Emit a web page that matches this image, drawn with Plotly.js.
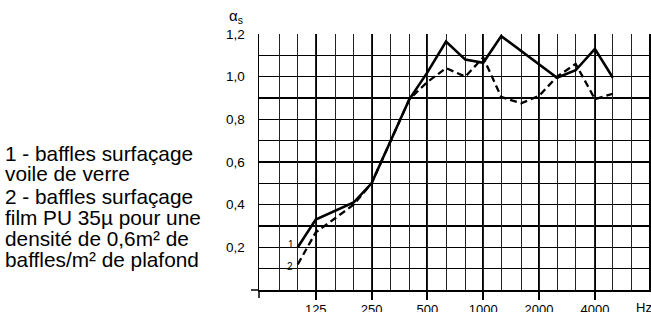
<!DOCTYPE html>
<html>
<head>
<meta charset="utf-8">
<script src="https://cdn.plot.ly/plotly-3.0.1.min.js"></script>
<style>html,body{margin:0;padding:0;background:#fff;}#chart{width:651px;height:312px;}</style>
</head>
<body>
<div id="chart"></div>
<script>
// Data
const freq1 = [100, 125, 200, 250, 400, 500, 630, 800, 1000, 1250, 2500, 3150, 4000, 5000];
const alpha1 = [0.20, 0.33, 0.41, 0.50, 0.895, 1.02, 1.165, 1.08, 1.065, 1.19, 0.995, 1.03, 1.13, 0.995];
const freq2 = [100, 125, 200, 250, 400, 500, 630, 800, 1000, 1250, 1600, 2000, 2500, 3150, 4000, 5000];
const alpha2 = [0.12, 0.27, 0.40, 0.50, 0.895, 0.975, 1.04, 1.00, 1.09, 0.905, 0.875, 0.91, 1.00, 1.06, 0.895, 0.92];
const octaveTicks = [125, 250, 500, 1000, 2000, 4000];
const octaveLabels = ['125', '250', '500', '1000', '2000', '4000'];
const thirdOctaves = [80, 100, 125, 160, 200, 250, 315, 400, 500, 630, 800, 1000, 1250, 1600, 2000, 2500, 3150, 4000, 5000, 6300];
const yTicks = [0, 0.1, 0.2, 0.3, 0.4, 0.5, 0.6, 0.7, 0.8, 0.9, 1.0, 1.1, 1.2];
const yLabels = ['', '', '0,2', '', '0,4', '', '0,6', '', '0,8', '', '1,0', '', '1,2'];
const legendLines = ['1 - baffles surfaçage', 'voile de verre', '2 - baffles surfaçage', 'film PU 35µ pour une', 'densité de 0,6m² de', 'baffles/m² de plafond'];

const W = 651, H = 312;
const L = 259, R = 2, T = 34, B = 22;
const pw = W - L - R, ph = H - T - B;
const px2paper = x => (x - L) / pw;
const py2paper = y => (H - B - y) / ph;

const xRange = [Math.log10(61.8), Math.log10(7830)];
const FONT = 'Liberation Sans, Arial, Helvetica, sans-serif';

const traces = [
  {x: [thirdOctaves[0]], y: [0], xaxis: 'x2', yaxis: 'y', mode: 'markers', marker: {opacity: 0}, hoverinfo: 'skip'},
  {x: freq2, y: alpha2, mode: 'lines', line: {color: '#000', width: 2.3, dash: '7px,4px'}, xaxis: 'x', yaxis: 'y', hoverinfo: 'skip'},
  {x: freq1, y: alpha1, mode: 'lines', line: {color: '#000', width: 2.6}, xaxis: 'x', yaxis: 'y', hoverinfo: 'skip'}
];

const annotations = [];
const lineBottoms = [162, 182, 204.5, 226, 247, 268];
legendLines.forEach((t, i) => {
  annotations.push({text: t, xref: 'paper', yref: 'paper', x: px2paper(4), y: py2paper(lineBottoms[i] + 4),
    xanchor: 'left', yanchor: 'bottom', showarrow: false, font: {family: FONT, size: 20.8, color: '#000'}, borderpad: 0});
});
annotations.push({text: 'α<sub>s</sub>', xref: 'paper', yref: 'paper', x: px2paper(227), y: py2paper(16),
  xanchor: 'left', yanchor: 'middle', showarrow: false, font: {family: FONT, size: 15, color: '#000'}});
annotations.push({text: 'Hz', xref: 'paper', yref: 'paper', x: px2paper(634), y: py2paper(307),
  xanchor: 'left', yanchor: 'middle', showarrow: false, font: {family: FONT, size: 13, color: '#000'}});
annotations.push({text: '1', xref: 'x', yref: 'y', x: Math.log10(freq1[0]), y: alpha1[0], xshift: -7, yshift: 3,
  showarrow: false, font: {family: FONT, size: 10, color: '#000'}});
annotations.push({text: '2', xref: 'x', yref: 'y', x: Math.log10(freq2[0]), y: alpha2[0], xshift: -8, yshift: -2,
  showarrow: false, font: {family: FONT, size: 10, color: '#000'}});

const shapes = [
  {type: 'line', xref: 'paper', yref: 'paper', x0: px2paper(251), x1: 0, y0: 0, y1: 0, line: {color: '#000', width: 1.5}},
  {type: 'line', xref: 'paper', yref: 'paper', x0: 0, x1: 0, y0: 0, y1: py2paper(298), line: {color: '#000', width: 1.5}}
];

const layout = {
  width: W, height: H,
  margin: {l: L, r: R, t: T, b: B, pad: 0},
  paper_bgcolor: '#fff', plot_bgcolor: '#fff',
  showlegend: false,
  font: {family: FONT, size: 13, color: '#000'},
  xaxis: {type: 'log', range: xRange, tickmode: 'array', tickvals: octaveTicks, ticktext: octaveLabels,
    showgrid: true, gridcolor: '#000', gridwidth: 2, ticks: 'outside', ticklen: 8, tickwidth: 2, tickcolor: '#000',
    showline: true, linecolor: '#000', linewidth: 2, zeroline: false, ticklabelstandoff: -2,
    tickfont: {family: FONT, size: 13, color: '#000'}, fixedrange: true},
  xaxis2: {type: 'log', range: xRange, overlaying: 'x', tickmode: 'array', tickvals: thirdOctaves,
    showticklabels: false, showgrid: true, gridcolor: '#222', gridwidth: 1, ticks: '', zeroline: false, showline: false, fixedrange: true},
  yaxis: {range: [0, 1.2], tickmode: 'array', tickvals: yTicks, ticktext: yLabels,
    showgrid: true, gridcolor: '#000', gridwidth: 1.5, ticks: '', zeroline: false,
    showline: true, linecolor: '#000', linewidth: 1.5, mirror: true, ticklabelstandoff: 10,
    tickfont: {family: FONT, size: 13.5, color: '#000'}, fixedrange: true},
  annotations: annotations,
  shapes: shapes
};

Plotly.newPlot('chart', traces, layout, {staticPlot: true, displayModeBar: false});
</script>
</body>
</html>
